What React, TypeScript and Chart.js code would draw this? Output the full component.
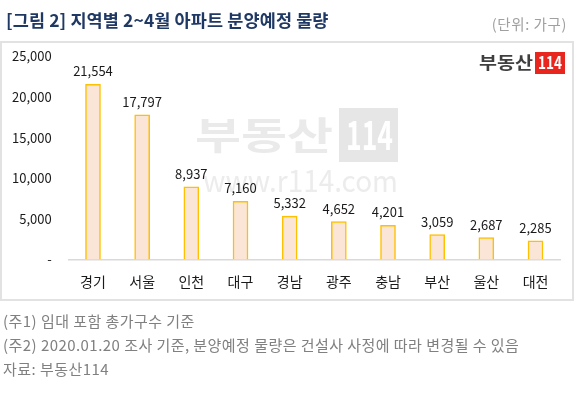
import React, { useEffect, useRef } from 'react';
import { Chart, registerables } from 'chart.js';

Chart.register(...registerables);

const categories = ['경기', '서울', '인천', '대구', '경남', '광주', '충남', '부산', '울산', '대전'];
const values = [21554, 17797, 8937, 7160, 5332, 4652, 4201, 3059, 2687, 2285];
const yMin = 0;
const yMax = 25000;
const yStep = 5000;
const titleText = '[그림 2] 지역별 2~4월 아파트 분양예정 물량';
const unitText = '(단위: 가구)';
const noteLines = [
  '(주1) 임대 포함 총가구수 기준',
  '(주2) 2020.01.20 조사 기준, 분양예정 물량은 건설사 사정에 따라 변경될 수 있음',
  '자료: 부동산114',
];
const logoName = '부동산';
const logoNum = '114';
const logoUrl = 'www.r114.com';

const KR = '"Noto Sans CJK KR", "Noto Sans", sans-serif';
const fmt = (v: number) => v.toLocaleString('en-US');

function fitText(
  ctx: CanvasRenderingContext2D,
  text: string,
  x: number,
  y: number,
  w: number,
  font: string,
  color: string,
  baseline: CanvasTextBaseline = 'middle'
) {
  ctx.save();
  ctx.font = font;
  const m = ctx.measureText(text).width || 1;
  ctx.translate(x, y);
  ctx.scale(w / m, 1);
  ctx.fillStyle = color;
  ctx.textAlign = 'left';
  ctx.textBaseline = baseline;
  ctx.fillText(text, 0, 0);
  ctx.restore();
}

const decorPlugin = {
  id: 'decor',
  beforeDatasetsDraw(chart: any) {
    const ctx = chart.ctx as CanvasRenderingContext2D;
    // large watermark
    fitText(ctx, logoName, 195, 135, 138, `bold 38px ${KR}`, '#eaeaea');
    ctx.save();
    ctx.fillStyle = '#e6e6e6';
    ctx.fillRect(339, 108, 59, 54);
    ctx.restore();
    fitText(ctx, logoNum, 346, 135, 47, `bold 40px ${KR}`, '#ffffff');
    fitText(ctx, logoUrl, 203, 192, 195, `30px ${KR}`, '#ececec', 'alphabetic');
    // small logo top-right
    fitText(ctx, logoName, 479, 63, 54, `bold 17px ${KR}`, '#3f3f3f');
    ctx.save();
    ctx.fillStyle = '#e8261e';
    ctx.fillRect(535, 52, 30, 22);
    ctx.restore();
    fitText(ctx, logoNum, 538, 63, 24, `bold 17px ${KR}`, '#ffffff');
  },
  afterDatasetsDraw(chart: any) {
    const ctx = chart.ctx as CanvasRenderingContext2D;
    const meta = chart.getDatasetMeta(0);
    ctx.save();
    ctx.font = `13px ${KR}`;
    ctx.fillStyle = '#1a1a1a';
    ctx.textAlign = 'center';
    ctx.textBaseline = 'middle';
    meta.data.forEach((bar: any, i: number) => {
      ctx.fillText(fmt(values[i]), bar.x, bar.y - 13);
    });
    ctx.restore();
  },
};

export default function App() {
  const ref = useRef<HTMLCanvasElement | null>(null);

  useEffect(() => {
    document.body.style.margin = '0';
    const canvas = ref.current;
    if (!canvas) return;
    Chart.defaults.font.family = KR;
    const chart = new Chart(canvas, {
      type: 'bar',
      data: {
        labels: categories,
        datasets: [
          {
            data: values,
            backgroundColor: '#fbe5d6',
            borderColor: '#ffc000',
            borderWidth: 1.5,
            barThickness: 15,
          },
        ],
      },
      options: {
        responsive: false,
        animation: false,
        devicePixelRatio: 1,
        layout: { padding: { left: 0, right: 20.9, top: 56.3, bottom: 93.5 } },
        plugins: {
          legend: { display: false },
          tooltip: { enabled: false },
          title: { display: false },
        },
        scales: {
          x: {
            grid: { display: false, drawTicks: false },
            border: { display: true, color: '#d9d9d9', width: 1.5 },
            ticks: { color: '#1a1a1a', font: { size: 14, family: KR }, padding: 14 },
            afterFit: (s: any) => {
              s.height = 40;
            },
          },
          y: {
            min: yMin,
            max: yMax,
            grid: { display: false, drawTicks: false },
            border: { display: false },
            ticks: {
              stepSize: yStep,
              color: '#1a1a1a',
              font: { size: 13, family: KR },
              padding: 16.7,
              callback: (v: any) => (Number(v) === 0 ? '-' : fmt(Number(v))),
            },
            afterFit: (s: any) => {
              s.width = 68.4;
            },
          },
        },
      },
      plugins: [decorPlugin],
    });
    return () => chart.destroy();
  }, []);

  return (
    <div style={{ position: 'absolute', left: 0, top: 0, width: 581, height: 393, background: '#fff', overflow: 'hidden' }}>
      <div
        style={{
          position: 'absolute',
          left: 0,
          top: 41,
          width: 574,
          height: 260,
          boxSizing: 'border-box',
          border: '2px solid #e2e2e2',
        }}
      />
      <canvas ref={ref} width={581} height={393} style={{ position: 'absolute', left: 0, top: 0, width: 581, height: 393 }} />
      <div
        style={{
          position: 'absolute',
          left: 6,
          top: 19.5,
          transform: 'translateY(-50%)',
          font: `bold 17.5px ${KR}`,
          letterSpacing: '0.1px',
          color: '#1f3864',
          whiteSpace: 'nowrap',
          lineHeight: 1,
        }}
      >
        {titleText}
      </div>
      <div
        style={{
          position: 'absolute',
          right: 14,
          top: 24,
          transform: 'translateY(-50%)',
          font: `14.5px ${KR}`,
          letterSpacing: '0.6px',
          color: '#a0a0a0',
          whiteSpace: 'nowrap',
          lineHeight: 1,
        }}
      >
        {unitText}
      </div>
      {noteLines.map((t, i) => (
        <div
          key={i}
          style={{
            position: 'absolute',
            left: 3,
            top: [319.5, 343.5, 368][i],
            transform: 'translateY(-50%)',
            font: `15px ${KR}`,
            letterSpacing: '0.45px',
            color: '#808080',
            whiteSpace: 'nowrap',
            lineHeight: 1,
          }}
        >
          {t}
        </div>
      ))}
    </div>
  );
}
